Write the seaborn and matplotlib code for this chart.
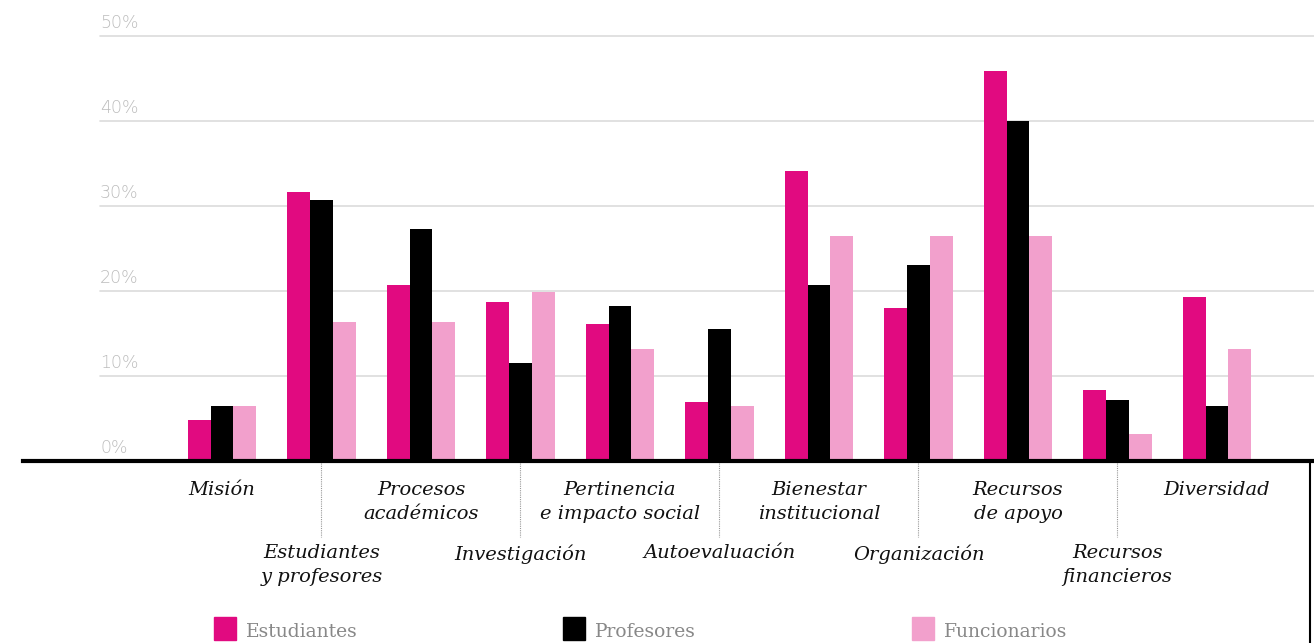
import pandas as pd
import seaborn as sb
import matplotlib.pyplot as plt
import matplotlib.transforms as mtransforms
from matplotlib.patches import Rectangle

# datos (% de menciones por factor)
factores = ["Misión", "Estudiantes\ny profesores", "Procesos\nacadémicos", "Investigación",
            "Pertinencia\ne impacto social", "Autoevaluación", "Bienestar\ninstitucional",
            "Organización", "Recursos\nde apoyo", "Recursos\nfinancieros", "Diversidad"]
grupos = ["Estudiantes", "Profesores", "Funcionarios"]
estudiantes = [4.8, 31.6, 20.7, 18.7, 16.1, 6.9, 34.1, 18.0, 45.9, 8.4, 19.3]
profesores = [6.5, 30.7, 27.3, 11.5, 18.2, 15.5, 20.7, 23.1, 40.0, 7.2, 6.5]
funcionarios = [6.5, 16.4, 16.4, 19.9, 13.2, 6.5, 26.5, 26.5, 26.5, 3.2, 13.2]
yticks = [0, 10, 20, 30, 40, 50]
colores = ["#E10A80", "#000000", "#F2A0CC"]

W, H = 1314, 643

df = pd.DataFrame({
    "factor": factores * 3,
    "grupo": [g for g in grupos for _ in factores],
    "valor": estudiantes + profesores + funcionarios,
})

sb.set_style("white")
plt.rcParams['font.family'] = ['DejaVu Sans']

fig = plt.figure(figsize=(W / 100, H / 100), dpi=100)
ax = fig.add_axes([23 / W, (H - 461) / H, (W - 23) / W, 442 / H])

sb.barplot(data=df, x="factor", y="valor", hue="grupo", palette=colores,
           width=0.69, gap=0, saturation=1, legend=False, ax=ax, zorder=2,
           linewidth=0, edgecolor="none")

ax.set_xlim(-2.0, 10.975)
ax.set_ylim(0, 52)
for s in ["top", "right", "left"]:
    ax.spines[s].set_visible(False)
ax.spines["bottom"].set_linewidth(3)
ax.spines["bottom"].set_color("black")
ax.spines["bottom"].set_zorder(5)
ax.set_xticks([])
ax.set_yticks([])
ax.set_xlabel("")
ax.set_ylabel("")

# grid y etiquetas del eje y
gx = (100 - 23) / (W - 23)
for t in yticks:
    if t > 0:
        ax.axhline(t, xmin=gx, xmax=1, color="#dcdcdc", lw=1.2, zorder=1)
    ax.text(gx, t + 0.5, f"{t}%", transform=ax.get_yaxis_transform(),
            fontsize=12.5, color="#bcbcbc", fontweight="light", va="bottom", ha="left")

# etiquetas de categorias en dos filas
trans = mtransforms.blended_transform_factory(ax.transData, fig.transFigure)
for i, f in enumerate(factores):
    if i % 2 == 0:
        ytop = 481
    else:
        ytop = 544
        ax.plot([i, i], [1 - 463 / H, 1 - 537 / H], transform=trans, color="#999999",
                lw=0.8, ls=(0, (1, 1)), clip_on=False)
    ax.text(i, 1 - ytop / H, f, transform=trans, ha="center", va="top",
            fontsize=14, family="DejaVu Serif", style="italic", color="#111111",
            linespacing=1.45)

# linea vertical derecha
fig.add_artist(plt.Line2D([1310 / W, 1310 / W], [0, 1 - 461 / H], color="black", lw=1.5))

# leyenda
for k, g in enumerate(grupos):
    x0 = 214 + 349 * k
    fig.add_artist(Rectangle((x0 / W, 1 - 640 / H), 22 / W, 23 / H,
                             transform=fig.transFigure, color=colores[k]))
    fig.text((x0 + 32) / W, 1 - 632 / H, g, fontsize=13.5, family="DejaVu Serif",
             color="#888888", va="center", ha="left")

plt.savefig("out.png", dpi=100)
plt.close()
